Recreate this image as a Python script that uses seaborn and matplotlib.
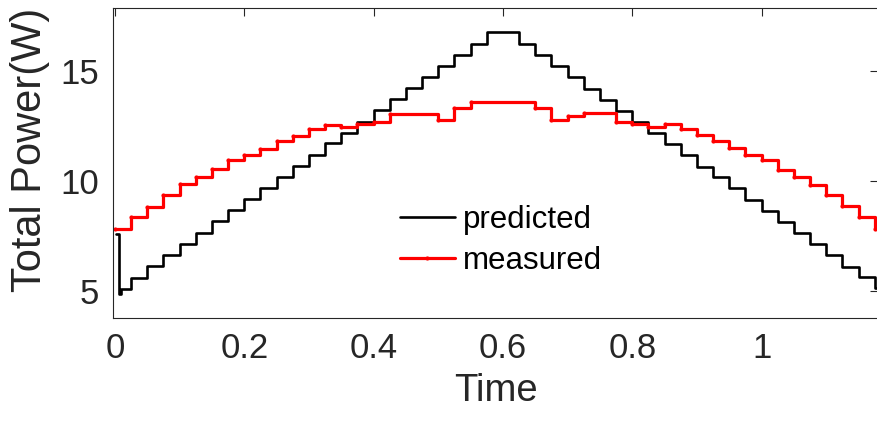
import matplotlib
matplotlib.use("Agg")
import matplotlib.pyplot as plt
import seaborn as sns
import pandas as pd

# ---- data ----
# predicted: initial transient points, then step start times and levels
pred_t = [0.002, 0.006, 0.010, 0.025, 0.050, 0.075, 0.100, 0.125, 0.150, 0.175,
          0.200, 0.225, 0.250, 0.275, 0.300, 0.325, 0.350, 0.375, 0.400, 0.425,
          0.450, 0.475, 0.500, 0.525, 0.550, 0.575, 0.625, 0.650, 0.675, 0.700,
          0.725, 0.750, 0.775, 0.800, 0.825, 0.850, 0.875, 0.900, 0.925, 0.950,
          0.975, 1.000, 1.025, 1.050, 1.075, 1.100, 1.125, 1.150, 1.175, 1.185]
pred_w = [7.60, 4.85, 5.08, 5.60, 6.12, 6.64, 7.14, 7.65, 8.18, 8.68,
          9.20, 9.70, 10.20, 10.68, 11.18, 11.71, 12.20, 12.70, 13.22, 13.71,
          14.21, 14.71, 15.23, 15.73, 16.23, 16.75, 16.23, 15.73, 15.23, 14.71,
          14.18, 13.68, 13.20, 12.70, 12.20, 11.68, 11.18, 10.65, 10.17, 9.67,
          9.15, 8.65, 8.15, 7.65, 7.12, 6.64, 6.10, 5.62, 5.12, 5.12]

meas_t = [0.000, 0.025, 0.050, 0.075, 0.100, 0.125, 0.150, 0.175, 0.200, 0.225,
          0.250, 0.275, 0.300, 0.325, 0.350, 0.375, 0.400, 0.425, 0.500, 0.525,
          0.550, 0.650, 0.675, 0.700, 0.725, 0.775, 0.800, 0.825, 0.850, 0.875,
          0.900, 0.925, 0.950, 0.975, 1.000, 1.025, 1.050, 1.075, 1.100, 1.125,
          1.150, 1.175, 1.185]
meas_w = [7.82, 8.35, 8.83, 9.36, 9.85, 10.20, 10.53, 10.95, 11.20, 11.44,
          11.80, 12.05, 12.37, 12.55, 12.47, 12.58, 12.68, 13.05, 12.77, 13.30,
          13.57, 13.30, 12.77, 12.97, 13.08, 12.70, 12.60, 12.47, 12.57, 12.35,
          12.10, 11.82, 11.50, 11.18, 10.95, 10.50, 10.20, 9.82, 9.36, 8.86,
          8.35, 7.82, 7.82]

x_ticks = [0, 0.2, 0.4, 0.6, 0.8, 1]
x_tick_labels = ["0", "0.2", "0.4", "0.6", "0.8", "1"]
y_ticks = [5, 10, 15]
y_tick_labels = ["5", "10", "15"]
series_names = ["predicted", "measured"]

# ---- style ----
sns.set_style("white")
plt.rcParams["font.family"] = ["Liberation Sans", "DejaVu Sans"]
axc = "#262626"

fig = plt.figure(figsize=(8.78, 4.25), dpi=100)
ax = fig.add_axes([113 / 878, 1 - 318 / 425, 1 - 113 / 878, 310 / 425])

pred_df = pd.DataFrame({"Time": pred_t, "Power": pred_w})
meas_df = pd.DataFrame({"Time": meas_t, "Power": meas_w})

sns.lineplot(data=pred_df, x="Time", y="Power", ax=ax, color="black",
             linewidth=1.9, drawstyle="steps-post", sort=False,
             estimator=None, label=series_names[0])
sns.lineplot(data=meas_df, x="Time", y="Power", ax=ax, color="red",
             linewidth=2.3, drawstyle="steps-post", sort=False,
             estimator=None, marker=".", markersize=6, markeredgewidth=0,
             label=series_names[1])

ax.set_xlim(-0.003, 1.18)
ax.set_ylim(3.77, 17.86)
ax.set_xticks(x_ticks)
ax.set_xticklabels(x_tick_labels)
ax.set_yticks(y_ticks)
ax.set_yticklabels(y_tick_labels)

ax.tick_params(direction="in", length=6, width=0.8, colors=axc,
               labelsize=25, top=True, right=True, pad=10)
for s in ax.spines.values():
    s.set_color(axc)
    s.set_linewidth(0.8)

ax.set_xlabel("Time", fontsize=27.5, color=axc, labelpad=6)
ax.set_ylabel("Total Power(W)", fontsize=30, color=axc)
ax.yaxis.set_label_coords((50 - 113) / 765, (318 - 150) / 310)

leg = ax.legend(loc="upper left", bbox_to_anchor=(400 / 878, 1 - 205 / 425),
                bbox_transform=fig.transFigure, frameon=False, fontsize=22.5,
                handlelength=1.75, handletextpad=0.25, labelspacing=0.35,
                borderpad=0, borderaxespad=0, numpoints=1)
for t in leg.get_texts():
    t.set_color("black")

fig.savefig("out.png", dpi=100)
